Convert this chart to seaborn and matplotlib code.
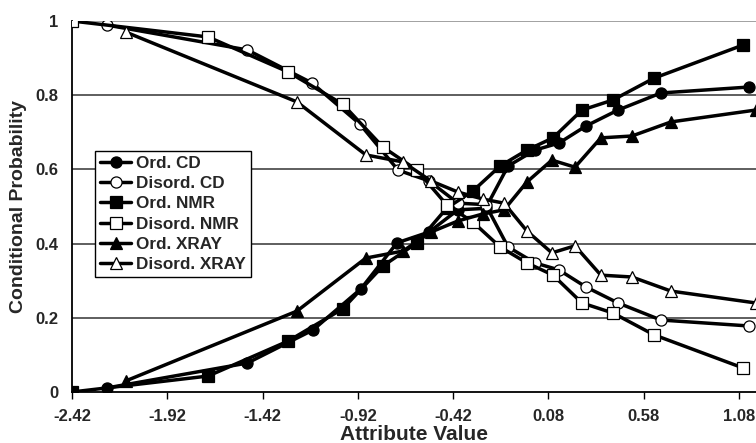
import matplotlib
matplotlib.use("Agg")
import matplotlib.pyplot as plt
import seaborn as sns
import pandas as pd

sns.set_theme(style="white")
plt.rcParams['font.family'] = ['Liberation Sans', 'DejaVu Sans']
plt.rcParams['font.weight'] = 'bold'

# ---- data ----
cd_ord_x = [-2.236, -1.50, -1.156, -0.904, -0.715, -0.547, -0.395, -0.25, -0.132, 0.009, 0.135, 0.277, 0.445, 0.670, 1.132]
cd_ord_y = [0.011, 0.078, 0.167, 0.278, 0.402, 0.431, 0.491, 0.495, 0.609, 0.652, 0.671, 0.717, 0.760, 0.806, 0.822]
cd_dis_x = [-2.236, -1.50, -1.161, -0.909, -0.709, -0.547, -0.395, -0.25, -0.132, 0.009, 0.135, 0.277, 0.445, 0.670, 1.132]
cd_dis_y = [0.989, 0.922, 0.833, 0.722, 0.598, 0.569, 0.509, 0.505, 0.391, 0.348, 0.329, 0.283, 0.240, 0.194, 0.178]

nmr_ord_x = [-2.42, -1.706, -1.287, -1.00, -0.788, -0.610, -0.453, -0.316, -0.174, -0.033, 0.104, 0.256, 0.418, 0.634, 1.10]
nmr_ord_y = [0.0, 0.043, 0.137, 0.224, 0.340, 0.402, 0.496, 0.542, 0.609, 0.652, 0.685, 0.760, 0.787, 0.846, 0.935]
nmr_dis_x = [-2.42, -1.706, -1.287, -1.00, -0.788, -0.610, -0.453, -0.316, -0.174, -0.033, 0.104, 0.256, 0.418, 0.634, 1.10]
nmr_dis_y = [1.0, 0.957, 0.863, 0.776, 0.660, 0.598, 0.504, 0.458, 0.391, 0.348, 0.315, 0.240, 0.213, 0.154, 0.065]

xray_ord_x = [-2.137, -1.24, -0.878, -0.683, -0.537, -0.395, -0.264, -0.153, -0.033, 0.098, 0.219, 0.355, 0.518, 0.723, 1.168]
xray_ord_y = [0.030, 0.218, 0.361, 0.380, 0.431, 0.461, 0.480, 0.491, 0.566, 0.625, 0.606, 0.685, 0.690, 0.728, 0.760]
xray_dis_x = [-2.137, -1.24, -0.878, -0.683, -0.537, -0.395, -0.264, -0.153, -0.033, 0.098, 0.219, 0.355, 0.518, 0.723, 1.168]
xray_dis_y = [0.970, 0.782, 0.639, 0.620, 0.569, 0.539, 0.520, 0.509, 0.434, 0.375, 0.394, 0.315, 0.310, 0.272, 0.240]

x_ticks = [-2.42, -1.92, -1.42, -0.92, -0.42, 0.08, 0.58, 1.08]
x_tick_labels = ["-2.42", "-1.92", "-1.42", "-0.92", "-0.42", "0.08", "0.58", "1.08"]
y_ticks = [0, 0.2, 0.4, 0.6, 0.8, 1.0]
y_tick_labels = ["0", "0.2", "0.4", "0.6", "0.8", "1"]

series = [
    ("Ord. CD", cd_ord_x, cd_ord_y, "o", "black"),
    ("Disord. CD", cd_dis_x, cd_dis_y, "o", "white"),
    ("Ord. NMR", nmr_ord_x, nmr_ord_y, "s", "black"),
    ("Disord. NMR", nmr_dis_x, nmr_dis_y, "s", "white"),
    ("Ord. XRAY", xray_ord_x, xray_ord_y, "^", "black"),
    ("Disord. XRAY", xray_dis_x, xray_dis_y, "^", "white"),
]

fig = plt.figure(figsize=(7.56, 4.43), dpi=100)
ax = fig.add_axes([72/756, 1-392/443, 1-72/756, (392-21)/443])

for y in [0.2, 0.4, 0.6, 0.8, 1.0]:
    ax.axhline(y, color="#333333" if y < 1 else "#888888", lw=1.1, zorder=0)

for name, xs, ys, mk, fc in series:
    df = pd.DataFrame({"x": xs, "y": ys})
    sns.lineplot(data=df, x="x", y="y", ax=ax, color="black", lw=2.5,
                 marker=mk, markersize=8.5 if mk != "o" else 8,
                 markerfacecolor=fc, markeredgecolor="black", markeredgewidth=0.9,
                 label=name, sort=False, zorder=3)

ax.set_xlim(-2.42, 1.169)
ax.set_ylim(0, 1.0)
ax.set_xticks(x_ticks)
ax.set_xticklabels(x_tick_labels, fontsize=12, fontweight="bold")
ax.set_yticks(y_ticks)
ax.set_yticklabels(y_tick_labels, fontsize=12, fontweight="bold")
ax.tick_params(axis="x", direction="out", length=5, width=1, color="black", pad=7, bottom=True)
ax.tick_params(axis="y", direction="out", length=0, pad=10, left=True)
for s in ["top", "right"]:
    ax.spines[s].set_visible(False)
for s in ["left", "bottom"]:
    ax.spines[s].set_color("black")
    ax.spines[s].set_linewidth(1.3)
ax.set_xlabel("Attribute Value", fontsize=15, fontweight="bold", labelpad=1)
ax.set_ylabel("Conditional Probability", fontsize=14, fontweight="bold", labelpad=6)

leg = ax.legend(loc="upper left", bbox_to_anchor=((95-72)/684, (392-151)/371),
                borderaxespad=0,
                frameon=True, fancybox=False, shadow=False, framealpha=1,
                edgecolor="black", handlelength=1.8,
                handletextpad=0.3, borderpad=0.3, labelspacing=0.3,
                prop={"weight": "bold", "size": 12.3})
leg.get_frame().set_linewidth(1.0)

fig.savefig("out.png", dpi=100)
